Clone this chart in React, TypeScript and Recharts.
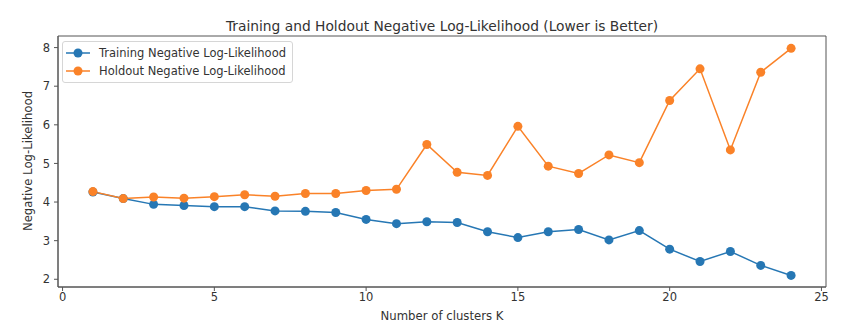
import React from "react"
import { LineChart, Line, XAxis, YAxis, Legend, ReferenceArea } from "recharts"

const kValues = [1, 2, 3, 4, 5, 6, 7, 8, 9, 10, 11, 12, 13, 14, 15, 16, 17, 18, 19, 20, 21, 22, 23, 24]
const trainingNll = [4.26, 4.09, 3.94, 3.91, 3.88, 3.88, 3.77, 3.76, 3.73, 3.55, 3.44, 3.49, 3.47, 3.23, 3.08, 3.23, 3.29, 3.02, 3.26, 2.78, 2.46, 2.72, 2.36, 2.1]
const holdoutNll = [4.27, 4.09, 4.13, 4.1, 4.14, 4.19, 4.15, 4.22, 4.22, 4.3, 4.33, 5.49, 4.77, 4.69, 5.96, 4.93, 4.74, 5.22, 5.02, 6.63, 7.45, 5.35, 7.36, 7.98]
const xTicks = [0, 5, 10, 15, 20, 25]
const yTicks = [2, 3, 4, 5, 6, 7, 8]
const seriesOrder = ["training", "holdout"]

const FONT = "'DejaVu Sans', sans-serif"
const TEXT = "#333"
const AXIS = "#555"
const BLUE = "#2677b4"
const ORANGE = "#fa8228"
const X_DOMAIN: [number, number] = [-0.15, 25.15]
const Y_DOMAIN: [number, number] = [1.8, 8.3]

const chartData = kValues.map((k, i) => ({
  k,
  training: trainingNll[i],
  holdout: holdoutNll[i]
}))

function LegendBox(props: any) {
  const items = [...(props.payload || [])].sort(
    (a: any, b: any) => seriesOrder.indexOf(a.dataKey) - seriesOrder.indexOf(b.dataKey)
  )
  return (
    <div
      style={{
        border: "1px solid #d6d6d6",
        borderRadius: 3,
        background: "rgba(255,255,255,0.85)",
        padding: "2px 6px 2px 3px",
        fontFamily: FONT,
        fontSize: 11.5,
        color: TEXT
      }}
    >
      {items.map((item: any) => (
        <div key={item.value} style={{ display: "flex", alignItems: "center", height: 18 }}>
          <svg width={24} height={12} style={{ marginRight: 9 }}>
            <line x1={0} y1={6} x2={24} y2={6} stroke={item.color} strokeWidth={1.5} />
            <circle cx={12} cy={6} r={4.5} fill={item.color} />
          </svg>
          <span>{item.value}</span>
        </div>
      ))}
    </div>
  )
}

export default function App() {
  return (
    <div style={{ position: "absolute", left: 0, top: 0, width: 852, height: 333, background: "#fff" }}>
      <div
        style={{
          position: "absolute",
          top: 18,
          left: 0,
          width: 884,
          textAlign: "center",
          fontFamily: FONT,
          fontSize: 13.8,
          color: TEXT
        }}
      >
        Training and Holdout Negative Log-Likelihood (Lower is Better)
      </div>
      <div
        style={{
          position: "absolute",
          top: 309,
          left: 0,
          width: 884,
          textAlign: "center",
          fontFamily: FONT,
          fontSize: 11.7,
          color: TEXT
        }}
      >
        Number of clusters K
      </div>
      <div
        style={{
          position: "absolute",
          left: 28,
          top: 161,
          transform: "translate(-50%, -50%) rotate(-90deg)",
          whiteSpace: "nowrap",
          fontFamily: FONT,
          fontSize: 11.7,
          color: TEXT
        }}
      >
        Negative Log-Likelihood
      </div>

      <LineChart
        width={852}
        height={333}
        data={chartData}
        margin={{ top: 36, right: 26, left: 28, bottom: 16 }}
        style={{ position: "absolute", left: 0, top: 0 }}
      >
        <XAxis
          dataKey="k"
          type="number"
          domain={X_DOMAIN}
          ticks={xTicks}
          allowDataOverflow
          height={30}
          stroke={AXIS}
          tickSize={4}
          tickMargin={2}
          tick={{ fill: TEXT, fontSize: 11.5, fontFamily: FONT }}
        />
        <YAxis
          type="number"
          domain={Y_DOMAIN}
          ticks={yTicks}
          allowDataOverflow
          width={30}
          stroke={AXIS}
          tickSize={4}
          tickMargin={4}
          tick={{ fill: TEXT, fontSize: 11.5, fontFamily: FONT }}
        />
        {/* full frame around the plot like matplotlib spines */}
        <ReferenceArea
          x1={X_DOMAIN[0]}
          x2={X_DOMAIN[1]}
          y1={Y_DOMAIN[0]}
          y2={Y_DOMAIN[1]}
          fill="none"
          stroke={AXIS}
          strokeWidth={1}
          ifOverflow="visible"
        />
        <Legend
          layout="vertical"
          verticalAlign="middle"
          align="center"
          content={LegendBox}
          wrapperStyle={{ left: 62, top: 41, width: "auto" }}
        />
        <Line
          dataKey="training"
          name="Training Negative Log-Likelihood"
          stroke={BLUE}
          strokeWidth={1.5}
          dot={{ r: 4.5, fill: BLUE, stroke: BLUE, strokeWidth: 0 }}
          activeDot={false}
          isAnimationActive={false}
        />
        <Line
          dataKey="holdout"
          name="Holdout Negative Log-Likelihood"
          stroke={ORANGE}
          strokeWidth={1.5}
          dot={{ r: 4.5, fill: ORANGE, stroke: ORANGE, strokeWidth: 0 }}
          activeDot={false}
          isAnimationActive={false}
        />
      </LineChart>
    </div>
  )
}
